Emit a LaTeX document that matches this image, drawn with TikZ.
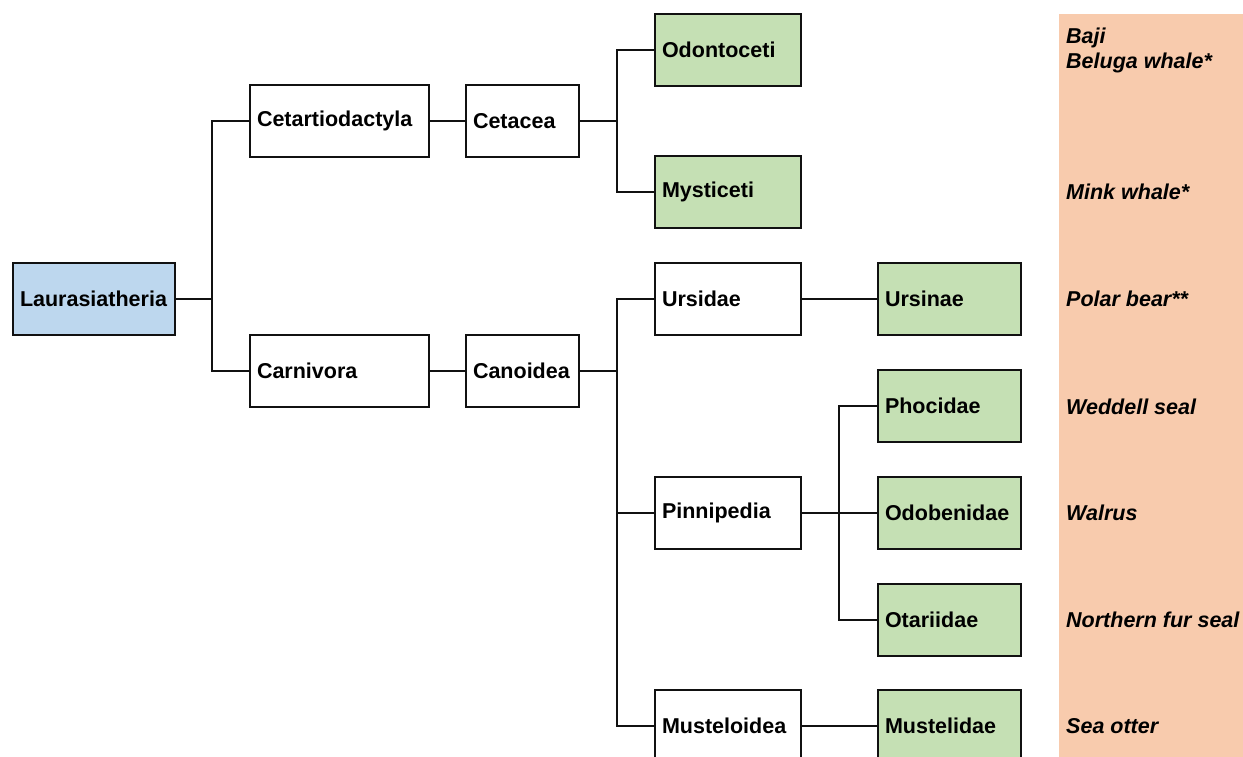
\documentclass[tikz,border=0pt]{standalone}
\usepackage{fontspec}
\setmainfont{Liberation Sans}
\usetikzlibrary{calc}
\definecolor{bluefill}{HTML}{BDD7EE}
\definecolor{greenfill}{HTML}{C5E0B4}
\definecolor{peach}{HTML}{F8CBAD}
\definecolor{edge}{HTML}{111111}
\begin{document}
\begin{tikzpicture}[x=1pt,y=-1pt,
  box/.style={draw=edge, line width=2.8pt, rectangle, anchor=north west,
    outer sep=0pt, inner xsep=7pt, inner ysep=0pt, align=left,
    font=\fontsize{21.5}{25}\selectfont\bfseries},
  wbox/.style={box, fill=white},
  gbox/.style={box, fill=greenfill},
  bbox/.style={box, fill=bluefill},
  conn/.style={draw=edge, line width=2.8pt},
  sp/.style={anchor=west, align=left, inner sep=0pt,
    font=\fontsize{21.5}{25}\selectfont\bfseries\itshape}]
\useasboundingbox (0,0) rectangle (1243,757);
\fill[white] (0,0) rectangle (1243,757);
\fill[peach] (1059,14) rectangle (1243,757);
% boxes
\node[bbox, text width=148pt, minimum height=72pt] (lau) at (13,263) {Laurasiatheria};
\node[wbox, text width=165pt, minimum height=72pt] (cet) at (250,85) {Cetartiodactyla};
\node[wbox, text width=99pt, minimum height=72pt] (cta) at (466,85) {Cetacea};
\node[gbox, text width=132pt, minimum height=72pt] (odo) at (655,14) {Odontoceti};
\node[gbox, text width=132pt, minimum height=72pt] (mys) at (655,156) {Mysticeti};
\node[wbox, text width=165pt, minimum height=72pt] (car) at (250,335) {Carnivora};
\node[wbox, text width=99pt, minimum height=72pt] (can) at (466,335) {Canoidea};
\node[wbox, text width=132pt, minimum height=72pt] (urs) at (655,263) {Ursidae};
\node[gbox, text width=129pt, minimum height=72pt] (usn) at (878,263) {Ursinae};
\node[gbox, text width=129pt, minimum height=72pt] (pho) at (878,370) {Phocidae};
\node[wbox, text width=132pt, minimum height=72pt] (pin) at (655,477) {Pinnipedia};
\node[gbox, text width=129pt, minimum height=72pt] (odb) at (878,477) {Odobenidae};
\node[gbox, text width=129pt, minimum height=72pt] (ota) at (878,584) {Otariidae};
\node[wbox, text width=132pt, minimum height=72pt] (mus) at (655,690) {Musteloidea};
\node[gbox, text width=129pt, minimum height=72pt] (msd) at (878,690) {Mustelidae};
% junctions
\coordinate (j1) at ($(lau.east)+(37,0)$);
\coordinate (j2) at ($(cta.east)+(38,0)$);
\coordinate (j3) at ($(can.east)+(38,0)$);
\coordinate (j4) at ($(pin.east)+(38,0)$);
% connectors
\draw[conn] (lau.east) -- (j1);
\draw[conn] (cet.west) -| (j1) |- (car.west);
\draw[conn] (cet.east) -- (cta.west);
\draw[conn] (cta.east) -- (j2);
\draw[conn] (odo.west) -| (j2) |- (mys.west);
\draw[conn] (car.east) -- (can.west);
\draw[conn] (can.east) -- (j3);
\draw[conn] (urs.west) -| (j3) |- (mus.west);
\draw[conn] (j3) |- (pin.west);
\draw[conn] (urs.east) -- (usn.west);
\draw[conn] (pin.east) -- (j4);
\draw[conn] (pho.west) -| (j4) |- (ota.west);
\draw[conn] (j4) -- (odb.west);
\draw[conn] (mus.east) -- (msd.west);
% species labels
\node[sp] (s1) at (1066,50) {Baji\\Beluga whale*};
\node[sp] (s2) at (1066,192) {Mink whale*};
\node[sp] (s3) at (1066,299) {Polar bear**};
\node[sp] (s4) at (1066,407) {Weddell seal};
\node[sp] (s5) at (1066,513) {Walrus};
\node[sp] (s6) at (1066,620) {Northern fur seal};
\node[sp] (s7) at (1066,726) {Sea otter};
\end{tikzpicture}
\end{document}
